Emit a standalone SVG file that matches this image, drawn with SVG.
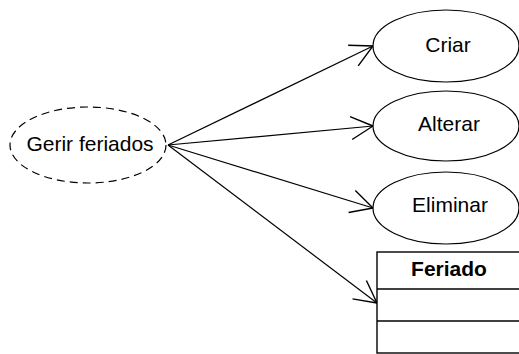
<svg xmlns="http://www.w3.org/2000/svg" width="519" height="354" viewBox="0 0 519 354">
  <style>
    .uc { fill: #fff; stroke: #000; stroke-width: 1.2; }
    .dash { stroke-dasharray: 8 5; }
    .lbl { font-family: "Liberation Sans", Arial, sans-serif; font-size: 21px; fill: #000; text-anchor: middle; }
    .bold { font-weight: bold; }
    .edge { stroke: #000; stroke-width: 1.2; fill: none; marker-end: url(#open); }
    .box { fill: #fff; stroke: #000; stroke-width: 1.4; }
  </style>
  <defs>
    <marker id="open" markerUnits="userSpaceOnUse" markerWidth="30" markerHeight="30" viewBox="-26 -15 30 30" refX="0" refY="0" orient="auto">
      <path d="M-22,-11.5 L0,0 L-22,11.5" fill="none" stroke="#000" stroke-width="1.4"/>
    </marker>
  </defs>
  <rect width="519" height="354" fill="#fff"/>

  <g id="connectors">
    <line class="edge" x1="168" y1="145" x2="373" y2="46"/>
    <line class="edge" x1="168" y1="145" x2="373" y2="126"/>
    <line class="edge" x1="168" y1="145" x2="373" y2="208"/>
    <line class="edge" x1="168" y1="145" x2="377" y2="303"/>
  </g>

  <g id="gerir-feriados">
    <ellipse class="uc dash" cx="88" cy="145" rx="78" ry="38"/>
    <text class="lbl" x="90" y="151">Gerir feriados</text>
  </g>

  <g id="criar">
    <ellipse class="uc" cx="446" cy="46" rx="73" ry="36"/>
    <text class="lbl" x="448" y="52">Criar</text>
  </g>

  <g id="alterar">
    <ellipse class="uc" cx="446" cy="126" rx="73" ry="35"/>
    <text class="lbl" x="449" y="131">Alterar</text>
  </g>

  <g id="eliminar">
    <ellipse class="uc" cx="446" cy="208" rx="73" ry="36"/>
    <text class="lbl" x="450" y="212">Eliminar</text>
  </g>

  <g id="feriado">
    <rect class="box" x="377" y="252" width="160" height="101"/>
    <line class="box" x1="377" y1="289" x2="537" y2="289"/>
    <line class="box" x1="377" y1="321" x2="537" y2="321"/>
    <text class="lbl bold" x="449" y="276">Feriado</text>
  </g>
</svg>
